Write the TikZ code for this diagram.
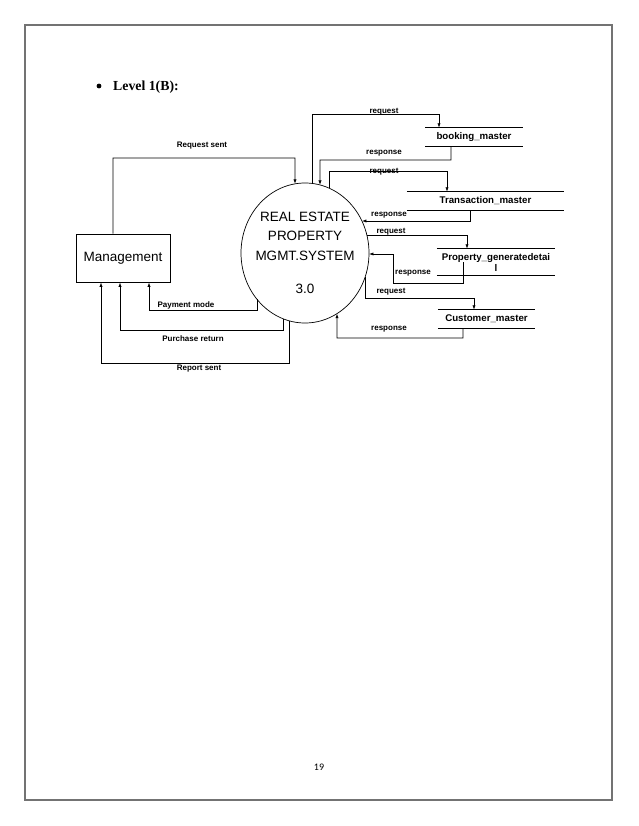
\documentclass[tikz,border=0pt]{standalone}
\usepackage{fontspec}
\setmainfont{Liberation Serif}
\setsansfont{Liberation Sans}
\newfontfamily\pagefont{Carlito}
\usetikzlibrary{intersections,calc,arrows.meta,shapes.geometric}
\newcommand\eTop[2]{\path[name path=aux#2] (#1,120) -- (#1,253);\path[name intersections={of=ell and aux#2,by={#2}}];}
\newcommand\eBot[2]{\path[name path=aux#2] (#1,253) -- (#1,400);\path[name intersections={of=ell and aux#2,by={#2}}];}
\newcommand\eRgt[2]{\path[name path=aux#2] (305,#1) -- (420,#1);\path[name intersections={of=ell and aux#2,by={#2}}];}
\begin{document}
\begin{tikzpicture}[x=1pt,y=-1pt,
  arr/.style={draw, line width=0.7pt, -{Latex[length=4.5pt,width=3.2pt]}},
  lbl/.style={font=\sffamily\bfseries\fontsize{8}{9}\selectfont, inner sep=0},
  store/.style={font=\sffamily\bfseries\fontsize{9.7}{12}\selectfont, inner sep=0, minimum height=18, align=center},
  slines/.style={line width=0.7pt}]
\useasboundingbox (0,0) rectangle (638,826);
% page frame
\draw[line width=1.1pt, color=black!55] (25,25) rectangle (612,800);
% heading
\fill (99,86) circle [radius=2.4];
\node[anchor=base west, inner sep=0, font=\rmfamily\bfseries\fontsize{13.8}{15}\selectfont] (head) at (113,91) {Level 1(B):};
% page number
\node[inner sep=0, font=\pagefont\fontsize{10}{12}\selectfont] (pnum) at (319,767) {19};

% process
\node[draw, ellipse, line width=0.7pt, minimum width=128, minimum height=140, inner sep=0, outer sep=0] (c) at (305,253) {};
\path[name path=ell] (305,253) ellipse [x radius=64, y radius=70];
\node[inner sep=0, align=center, font=\sffamily\fontsize{13.5}{19.5}\selectfont] (ctext) at (305,236) {REAL ESTATE\\PROPERTY\\MGMT.SYSTEM};
\node[inner sep=0, font=\sffamily\fontsize{13.5}{16}\selectfont] (cnum) at (305,289) {3.0};

% external entity
\node[draw, line width=0.7pt, minimum width=94, minimum height=48, inner sep=0, font=\sffamily\fontsize{13.5}{16}\selectfont] (mg) at (123,258) {Management};

% data stores
\node[store, minimum width=97] (bm) at (474,137) {booking\_master};
\node[store, minimum width=157] (tm) at (485.5,201) {Transaction\_master};
\node[store, minimum width=118, minimum height=26] (pg) at (496,262) {Property\_generatedetai\\[-1pt]l};
\node[store, minimum width=97] (cm) at (486.5,319) {Customer\_master};
\foreach \s in {bm,tm,pg,cm}{
  \draw[slines] (\s.north west) -- (\s.north east) (\s.south west) -- (\s.south east);
}

% border points on the process
\eTop{295}{eRS}
\eTop{312}{eB1}
\eTop{320}{eB2}
\eTop{329}{eT1}
\eRgt{221}{eT2}
\eRgt{235}{eP1}
\eRgt{254}{eP2}
\eBot{365}{eC1}
\eBot{337}{eC2}
\eBot{257}{eL1}
\eBot{283}{eL2}
\eBot{289}{eL3}

% connectors
\draw[arr] ([xshift=-10pt]mg.north) |- (295,158) -- (eRS);
\draw[arr] (eB1) |- (439,114) -- ([xshift=-35pt]bm.north);
\draw[arr] ([xshift=-23pt]bm.south) |- (320,160) -- (eB2);
\draw[arr] (eT1) |- (447,171) -- ([xshift=-38.5pt]tm.north);
\draw[arr] ([xshift=-15.5pt]tm.south) |- (eT2);
\draw[arr] (eP1) -| ([xshift=-29pt]pg.north);
\draw[arr] ([xshift=-33pt]pg.center) |- (393,283) |- (eP2);
\draw[arr] (eC1) |- (474,298) -- ([xshift=-12.5pt]cm.north);
\draw[arr] ([xshift=-23.5pt]cm.south) |- (337,338) -- (eC2);
\draw[arr] (eL1) |- (149,310) -- ([xshift=26pt]mg.south);
\draw[arr] (eL2) |- (120,330) -- ([xshift=-3pt]mg.south);
\draw[arr] (eL3) |- (101,363) -- ([xshift=-22pt]mg.south);

% labels
\node[lbl] (l1) at (202,146) {Request sent};
\node[lbl] (l2) at (384,112) {request};
\node[lbl] (l3) at (384,153) {response};
\node[lbl] (l4) at (384,172) {request};
\node[lbl] (l5) at (389,215) {response};
\node[lbl] (l6) at (391,232) {request};
\node[lbl] (l7) at (413,273) {response};
\node[lbl] (l8) at (391,292) {request};
\node[lbl] (l9) at (389,329) {response};
\node[lbl] (l10) at (186,305) {Payment mode};
\node[lbl] (l11) at (193,339) {Purchase return};
\node[lbl] (l12) at (199,369) {Report sent};
\end{tikzpicture}
\end{document}
